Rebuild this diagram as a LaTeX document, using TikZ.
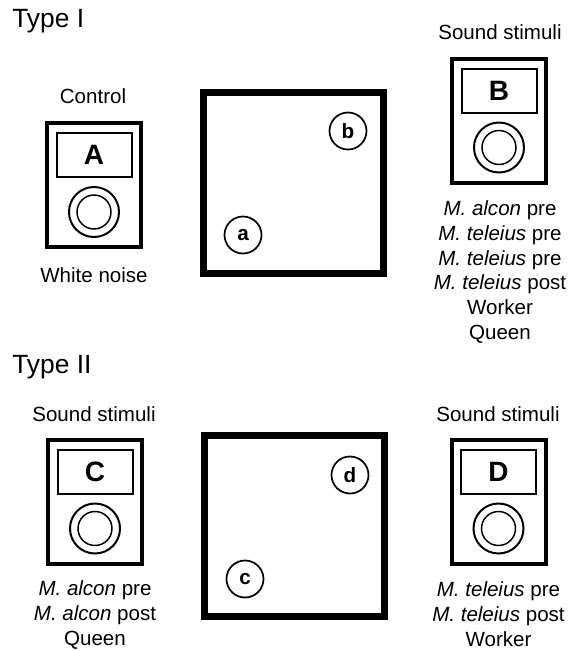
\documentclass[tikz,border=0pt]{standalone}
\usepackage{fontspec}
\setmainfont{Liberation Sans}
\begin{document}
\begin{tikzpicture}[x=0.75pt,y=-0.75pt,
  title/.style={font=\fontsize{19.8}{22}\selectfont, anchor=west, inner sep=0pt},
  lbl/.style={font=\fontsize{15.4}{18.5}\selectfont, align=center, inner sep=0pt},
  devbox/.style={draw, line width=3pt, minimum width=94*0.75pt, minimum height=124*0.75pt, inner sep=0pt},
  display/.style={draw, line width=1.5pt, minimum width=75*0.75pt, minimum height=44*0.75pt, inner sep=0pt, font=\fontsize{21}{24}\selectfont\bfseries},
  knobout/.style={draw, circle, line width=1.5pt, minimum size=50*0.75pt, inner sep=0pt},
  knobin/.style={draw, circle, line width=1.1pt, minimum size=34*0.75pt, inner sep=0pt},
  arena/.style={draw, line width=5.25pt, minimum width=180*0.75pt, minimum height=181*0.75pt, inner sep=0pt},
  spot/.style={draw, circle, line width=1.3pt, minimum size=37*0.75pt, inner sep=0pt, font=\fontsize{15.5}{17}\selectfont\bfseries}
]
\useasboundingbox (0,0) rectangle (569,651);

% Type I
\node[title] (t1) at (12,21) {Type I};
\node[lbl] (ctl) at (93,96) {Control};
\node[devbox] (A) at (94,185) {};
\node[display] (Ad) at (94,155) {A};
\node[knobout] (Ak) at (94,212) {};
\node[knobin] (Aki) at (94,212) {};
\node[lbl] (wn) at (94,275) {White noise};

\node[arena] (ar1) at (293.5,182.5) {};
\node[spot] (b) at (348,131) {b};
\node[spot] (a) at (243,235) {a};

\node[lbl] (ss1) at (500,32) {Sound stimuli};
\node[devbox] (B) at (499,120.5) {};
\node[display] (Bd) at (499,90.5) {B};
\node[knobout] (Bk) at (499,147.5) {};
\node[knobin] (Bki) at (499,147.5) {};
\node[lbl] (Bt) at (500,272) {\textit{M. alcon} pre\\\textit{M. teleius} pre\\\textit{M. teleius} pre\\\textit{M. teleius} post\\Worker\\Queen};

% Type II
\node[title] (t2) at (12,367) {Type II};
\node[lbl] (ss2) at (94,414) {Sound stimuli};
\node[devbox] (C) at (95,501.5) {};
\node[display] (Cd) at (95,471.5) {C};
\node[knobout] (Ck) at (95,528.5) {};
\node[knobin] (Cki) at (95,528.5) {};
\node[lbl] (Ct) at (95,615) {\textit{M. alcon} pre\\\textit{M. alcon} post\\Queen};

\node[arena] (ar2) at (294.5,525.5) {};
\node[spot] (d) at (350,475) {d};
\node[spot] (c) at (245,579) {c};

\node[lbl] (ss3) at (498,414) {Sound stimuli};
\node[devbox] (D) at (498.5,501.5) {};
\node[display] (Dd) at (498.5,471.5) {D};
\node[knobout] (Dk) at (498.5,528.5) {};
\node[knobin] (Dki) at (498.5,528.5) {};
\node[lbl] (Dt) at (498.5,614) {\textit{M. teleius} pre\\\textit{M. teleius} post\\Worker};
\end{tikzpicture}
\end{document}
